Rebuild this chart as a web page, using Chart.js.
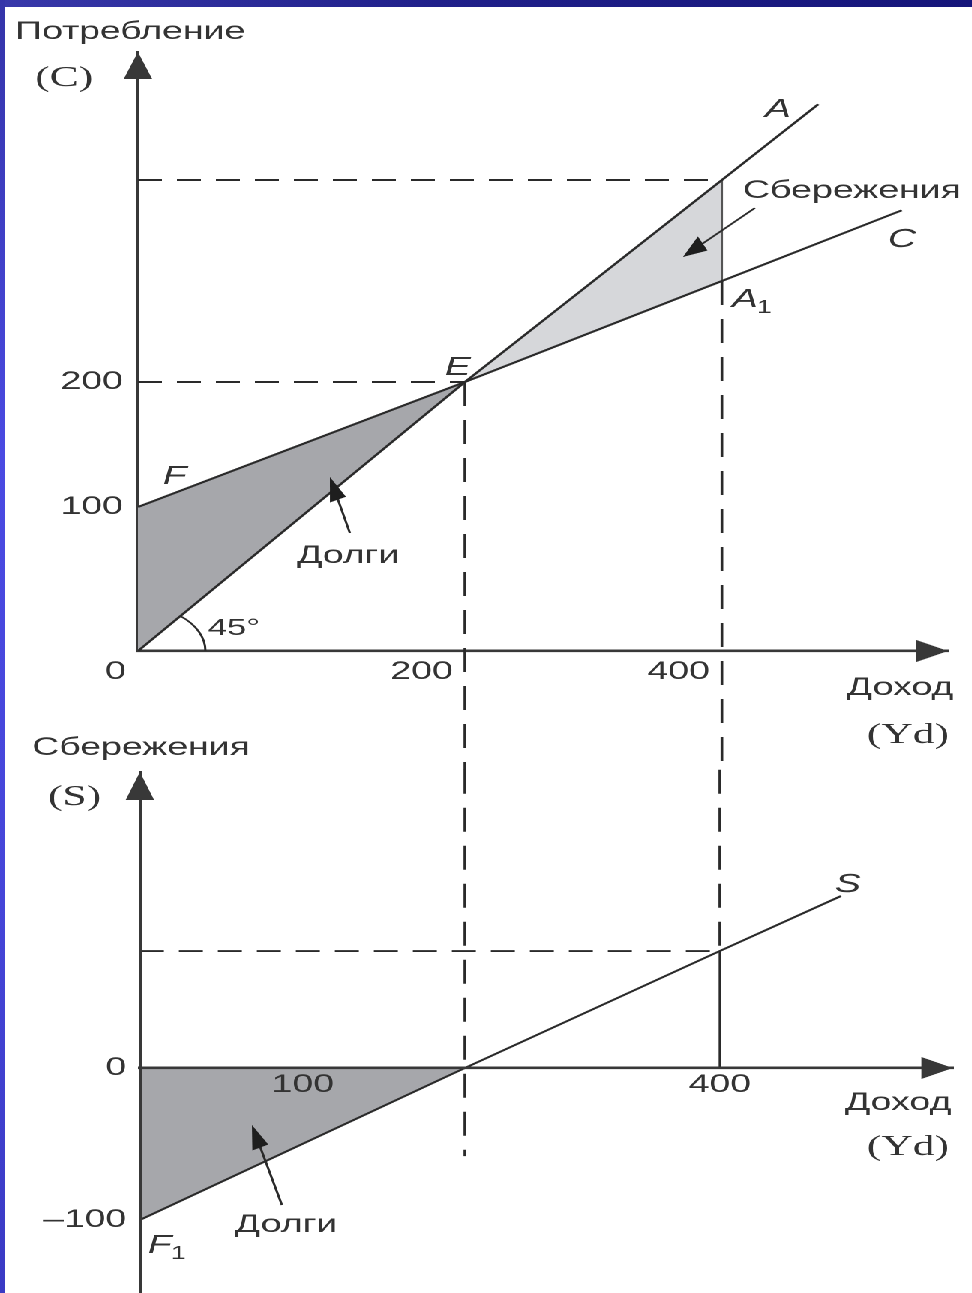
<!DOCTYPE html>
<html>
<head>
<meta charset="utf-8">
<script src="https://cdn.jsdelivr.net/npm/chart.js@4.4.0/dist/chart.umd.min.js"></script>
<style>
html,body{margin:0;padding:0;width:972px;height:1293px;overflow:hidden;background:#fff;}
#stage{position:absolute;left:0;top:0;width:648px;height:1293px;transform:scaleX(1.5);transform-origin:0 0;}
#c1{position:absolute;left:0;top:0;width:648px;height:770px;}
#c2{position:absolute;left:0;top:700px;width:648px;height:593px;}
#topbar{position:absolute;left:0;top:0;width:972px;height:7px;background:linear-gradient(90deg,#3838aa,#20208a 45%,#15157a);}
#leftbar{position:absolute;left:0;top:0;width:5px;height:1293px;background:linear-gradient(180deg,#3434a8,#4a4ae2 35%,#4545d8 70%,#3a3ac4);}
</style>
</head>
<body>
<div id="stage">
  <canvas id="c1" width="648" height="770"></canvas>
  <canvas id="c2" width="648" height="593"></canvas>
</div>
<div id="topbar"></div>
<div id="leftbar"></div>
<script>
// ================= DATA =================
// Upper panel: consumption C versus disposable income Yd
const incomeTicksTop = [0, 200, 400];
const incomeLabelsTop = ['0', '200', '400'];
const consumptionTicks = [100, 200];
const consumptionLabels = ['100', '200'];

const lineAIncome = [0, 200, 400, 475];        // 45° line (A)
const lineAConsumption = [0, 200, 400, 475];
const lineCIncome = [0, 200, 400, 540];        // consumption function (C), F -> E -> A1
const lineCConsumption = [100, 200, 300, 370];
const debtTopIncome = [0, 0, 200];             // shaded "Долги" area: O, F, E
const debtTopConsumption = [0, 100, 200];
const savingTopIncome = [200, 400, 400];       // shaded "Сбережения" area: E, A, A1
const savingTopConsumption = [200, 400, 300];

// guide lines (upper)
const guideH200Income = [0, 200], guideH200Cons = [200, 200];
const guideH400Income = [0, 400], guideH400Cons = [400, 400];
const guideV200Income = [200, 200], guideV200Cons = [200, -85];
const guideV400Income = [400, 400], guideV400Cons = [300, -85];
const edgeAA1Income = [400, 400], edgeAA1Cons = [400, 300];

// Lower panel: saving S versus disposable income Yd
const incomeTicksLow = [100, 400];
const incomeLabelsLow = ['100', '400'];
const savingTicks = [-100, 0];
const savingLabels = ['–100', '0'];
const lineSIncome = [0, 200, 400, 495];        // saving function S, F1 -> 0 -> ...
const lineSSaving = [-100, 0, 100, 147];
const debtLowIncome = [0, 0, 200];
const debtLowSaving = [0, -100, 0];

// guide lines (lower)
const guideH100Income = [0, 400], guideH100Sav = [100, 100];
const guideLV200Income = [200, 200], guideLV200Sav = [255, -58];
const guideLV400Income = [400, 400], guideLV400Sav = [255, 100];
const edgeS400Income = [400, 400], edgeS400Sav = [100, 0];

// ================= STYLE =================
const SX = 1.5;                 // horizontal stretch of the whole figure
const AXIS = '#383838';
const LINE = '#2a2a2a';
const TXT = '#333333';
const DARK = '#a6a7ab';
const LIGHT = '#d6d7da';
const SANS = '25px "Liberation Sans"';
const ITAL = 'italic 26px "Liberation Sans"';
const SUB = '18px "Liberation Sans"';
const SERIF = '29px "Liberation Serif"';

// schematic (non-uniform) axes of the original drawing: value -> fraction of axis length
const KNOTS = {
  c1_x: [[0, 0], [200, 0.4037], [400, 0.7210]],
  c1_y: [[0, 0], [100, 0.2404], [200, 0.4491], [400, 0.7863]],
  c2_x: [[0, 0], [100, 0.2005], [200, 0.3998], [400, 0.7134]],
  c2_y: [[-100, 0.1401], [0, 0.4319], [100, 0.6564]]
};

class PiecewiseScale extends Chart.LinearScale {
  _knots() { return KNOTS[this.chart.canvas.id + '_' + this.id]; }
  _toDec(v) {
    const k = this._knots(); let i = 0;
    while (i < k.length - 2 && v > k[i + 1][0]) i++;
    const a = k[i], b = k[i + 1];
    return a[1] + (v - a[0]) * (b[1] - a[1]) / (b[0] - a[0]);
  }
  _fromDec(d) {
    const k = this._knots(); let i = 0;
    while (i < k.length - 2 && d > k[i + 1][1]) i++;
    const a = k[i], b = k[i + 1];
    return a[0] + (d - a[1]) * (b[0] - a[0]) / (b[1] - a[1]);
  }
  getPixelForValue(v) {
    if (v === null || v === undefined || isNaN(v)) return NaN;
    return this.getPixelForDecimal(this._toDec(v));
  }
  getValueForPixel(p) { return this._fromDec(this.getDecimalForPixel(p)); }
}
PiecewiseScale.id = 'piecewise';
PiecewiseScale.defaults = Chart.LinearScale.defaults;
Chart.register(PiecewiseScale);

Chart.defaults.font.family = '"Liberation Sans", Arial, sans-serif';
Chart.defaults.color = TXT;

function ds(label, xs, ys, o) {
  return Object.assign({
    label,
    data: xs.map((x, i) => ({ x: x, y: ys[i] })),
    borderColor: LINE, borderWidth: 1.9, pointRadius: 0, pointHoverRadius: 0,
    fill: false, tension: 0, order: 1
  }, o || {});
}
const HDASH = [16, 10], VDASH = [24, 14];
function poly(label, xs, ys, color) {
  return ds(label, xs, ys, { fill: 'shape', backgroundColor: color, borderColor: 'rgba(0,0,0,0)', borderWidth: 0.01, order: 5 });
}

// ---------- drawing helpers (positions given in screen pixels of the figure) ----------
function txt(ctx, top, s, vx, vy, font, align) {
  ctx.font = font; ctx.textAlign = align || 'left'; ctx.textBaseline = 'alphabetic';
  ctx.fillStyle = TXT;
  ctx.fillText(s, vx / SX, vy - top);
}
function arrow(ctx, top, a, b) {
  const hl = 24, hw = 17;
  const dx = b[0] - a[0], dy = b[1] - a[1], L = Math.hypot(dx, dy), ux = dx / L, uy = dy / L;
  const bx = b[0] - ux * hl, by = b[1] - uy * hl;
  const P = p => [p[0] / SX, p[1] - top];
  const s0 = P(a), s1 = P([bx + ux * 4, by + uy * 4]);
  ctx.strokeStyle = LINE; ctx.lineWidth = 1.6;
  ctx.beginPath(); ctx.moveTo(s0[0], s0[1]); ctx.lineTo(s1[0], s1[1]); ctx.stroke();
  const t = P(b), p1 = P([bx - uy * hw / 2, by + ux * hw / 2]), p2 = P([bx + uy * hw / 2, by - ux * hw / 2]);
  ctx.fillStyle = '#1e1e1e';
  ctx.beginPath(); ctx.moveTo(t[0], t[1]); ctx.lineTo(p1[0], p1[1]); ctx.lineTo(p2[0], p2[1]); ctx.closePath(); ctx.fill();
}
function tri(ctx, p, q, r) {
  ctx.beginPath(); ctx.moveTo(p[0], p[1]); ctx.lineTo(q[0], q[1]); ctx.lineTo(r[0], r[1]); ctx.closePath(); ctx.fill();
}

const topDecor = {
  id: 'topDecor',
  afterDraw(chart) {
    const ctx = chart.ctx, a = chart.chartArea, xs = chart.scales.x, ys = chart.scales.y, T = 0;
    ctx.save();
    ctx.fillStyle = AXIS;
    tri(ctx, [a.left, a.top], [a.left - 9.5, a.top + 27], [a.left + 9.5, a.top + 27]);
    tri(ctx, [a.right, a.bottom], [a.right - 21, a.bottom - 11], [a.right - 21, a.bottom + 11]);
    // 45° arc
    const ox = xs.getPixelForValue(0), oy = ys.getPixelForValue(0);
    const ex = xs.getPixelForValue(lineAIncome[1]), ey = ys.getPixelForValue(lineAConsumption[1]);
    const th = Math.atan2(oy - ey, ex - ox);
    ctx.strokeStyle = LINE; ctx.lineWidth = 1.5;
    ctx.beginPath(); ctx.arc(ox, oy, 45, -th, 0); ctx.stroke();
    // labels
    txt(ctx, T, 'Потребление', 15, 39, SANS);
    txt(ctx, T, '(C)', 35, 86, SERIF);
    txt(ctx, T, 'A', 765, 117, ITAL);
    txt(ctx, T, 'Сбережения', 743, 198, SANS);
    txt(ctx, T, 'C', 888, 247, ITAL);
    txt(ctx, T, 'A', 732, 307, ITAL);
    txt(ctx, T, '1', 757, 313, SUB);
    txt(ctx, T, 'E', 445, 375, ITAL);
    txt(ctx, T, 'F', 163, 484, ITAL);
    txt(ctx, T, 'Долги', 297, 563, SANS);
    txt(ctx, T, '45°', 208, 635, '23px "Liberation Sans"');
    txt(ctx, T, 'Доход', 847, 695, SANS);
    txt(ctx, T, '(Yd)', 867, 743, SERIF);
    arrow(ctx, T, [755, 208], [683, 257]);
    arrow(ctx, T, [350, 533], [330, 477]);
    ctx.restore();
  }
};

const lowDecor = {
  id: 'lowDecor',
  afterDraw(chart) {
    const ctx = chart.ctx, a = chart.chartArea, ys = chart.scales.y, T = 700;
    ctx.save();
    ctx.fillStyle = AXIS;
    const y0 = ys.getPixelForValue(0);
    tri(ctx, [a.left, a.top], [a.left - 9.5, a.top + 28], [a.left + 9.5, a.top + 28]);
    tri(ctx, [a.right, y0], [a.right - 21, y0 - 11], [a.right - 21, y0 + 11]);
    txt(ctx, T, 'Сбережения', 32, 755, SANS);
    txt(ctx, T, '(S)', 48, 805, SERIF);
    txt(ctx, T, 'S', 835, 892, ITAL);
    txt(ctx, T, 'Доход', 845, 1110, SANS);
    txt(ctx, T, '(Yd)', 867, 1155, SERIF);
    txt(ctx, T, 'Долги', 235, 1232, SANS);
    txt(ctx, T, 'F', 148, 1253, ITAL);
    txt(ctx, T, '1', 171, 1259, SUB);
    arrow(ctx, T, [282, 1205], [252, 1125]);
    ctx.restore();
  }
};

const common = {
  responsive: false, animation: false, devicePixelRatio: 2, events: [],
  plugins: { legend: { display: false }, tooltip: { enabled: false }, title: { display: false } }
};

// ================= UPPER CHART =================
new Chart(document.getElementById('c1'), {
  type: 'line',
  data: {
    datasets: [
      ds('A (45°)', lineAIncome, lineAConsumption),
      ds('C', lineCIncome, lineCConsumption),
      ds('A–A1', edgeAA1Income, edgeAA1Cons, { borderColor: '#555', borderWidth: 1.4 }),
      ds('guide 200', guideH200Income, guideH200Cons, { borderDash: HDASH, borderWidth: 1.9, order: 2 }),
      ds('guide 400', guideH400Income, guideH400Cons, { borderDash: HDASH, borderWidth: 1.9, order: 2 }),
      ds('Yd 200', guideV200Income, guideV200Cons, { borderDash: VDASH, borderWidth: 1.8, clip: false, order: 2 }),
      ds('Yd 400', guideV400Income, guideV400Cons, { borderDash: VDASH, borderWidth: 1.8, clip: false, order: 2 }),
      poly('Долги', debtTopIncome, debtTopConsumption, DARK),
      poly('Сбережения', savingTopIncome, savingTopConsumption, LIGHT)
    ]
  },
  options: Object.assign({}, common, {
    layout: { padding: { top: 52, right: 16, bottom: 0, left: 0 } },
    scales: {
      x: {
        type: 'piecewise', min: 0, max: 576,
        afterFit: s => { s.height = 119; },
        afterBuildTicks: s => { s.ticks = incomeTicksTop.map(v => ({ value: v })); },
        grid: { display: false, drawTicks: false },
        border: { display: true, color: AXIS, width: 2.6 },
        ticks: { autoSkip: false, maxRotation: 0, align: 'end', labelOffset: -8, padding: 6,
                 font: { size: 25 }, color: TXT, callback: (v, i) => incomeLabelsTop[i] }
      },
      y: {
        type: 'piecewise', min: 0, max: 527,
        afterFit: s => { s.width = 92; s.paddingTop = 0; s.paddingBottom = 0; },
        afterBuildTicks: s => { s.ticks = consumptionTicks.map(v => ({ value: v })); },
        grid: { display: false, drawTicks: false },
        border: { display: true, color: AXIS, width: 2 },
        ticks: { autoSkip: false, padding: 10, font: { size: 25 }, color: TXT,
                 callback: (v, i) => consumptionLabels[i] }
      }
    }
  }),
  plugins: [topDecor]
});

// ================= LOWER CHART =================
new Chart(document.getElementById('c2'), {
  type: 'line',
  data: {
    datasets: [
      ds('S', lineSIncome, lineSSaving),
      ds('S at 400', edgeS400Income, edgeS400Sav, { borderWidth: 1.6 }),
      ds('guide 100', guideH100Income, guideH100Sav, { borderDash: HDASH, borderWidth: 1.9, order: 2 }),
      ds('Yd 200', guideLV200Income, guideLV200Sav, { borderDash: VDASH, borderWidth: 1.8, clip: false, order: 2 }),
      ds('Yd 400', guideLV400Income, guideLV400Sav, { borderDash: VDASH, borderWidth: 1.8, clip: false, order: 2 }),
      poly('Долги', debtLowIncome, debtLowSaving, DARK)
    ]
  },
  options: Object.assign({}, common, {
    layout: { padding: { top: 72, right: 12.7, bottom: 0, left: 0 } },
    scales: {
      x: {
        type: 'piecewise', min: 0, max: 583, position: { y: 0 },
        afterFit: s => { s.height = 0; s.paddingTop = 0; s.paddingBottom = 0; },
        afterBuildTicks: s => { s.ticks = incomeTicksLow.map(v => ({ value: v })); },
        grid: { display: false, drawTicks: false },
        border: { display: true, color: AXIS, width: 2.6, z: 1 },
        ticks: { autoSkip: false, maxRotation: 0, padding: 2, font: { size: 25 }, color: TXT, z: 1,
                 callback: (v, i) => incomeLabelsLow[i] }
      },
      y: {
        type: 'piecewise', min: -148, max: 253,
        afterFit: s => { s.width = 93.3; s.paddingTop = 0; s.paddingBottom = 0; },
        afterBuildTicks: s => { s.ticks = savingTicks.map(v => ({ value: v })); },
        grid: { display: false, drawTicks: false },
        border: { display: true, color: AXIS, width: 2, z: 1 },
        ticks: { autoSkip: false, padding: 9, font: { size: 25 }, color: TXT,
                 callback: (v, i) => savingLabels[i] }
      }
    }
  }),
  plugins: [lowDecor]
});
</script>
</body>
</html>
